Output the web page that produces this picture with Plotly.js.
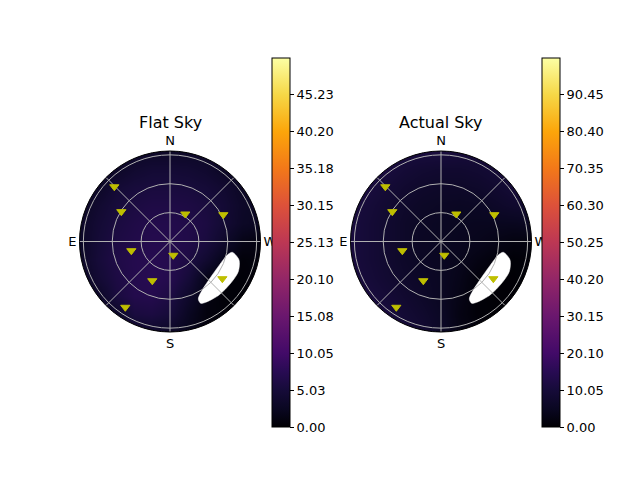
<!DOCTYPE html>
<html><head><meta charset="utf-8">
<script src="https://cdn.plot.ly/plotly-3.0.1.min.js"></script>
<style>html,body{margin:0;padding:0;background:#fff}</style>
</head><body><div id="chart" style="width:640px;height:480px"></div>
<script>
// sky grid coordinates (zenith-angle units, x: E(-) .. W(+), y: S(-) .. N(+))
const gridX = [-94, -75.2, -56.4, -37.6, -18.8, 0, 18.8, 37.6, 56.4, 75.2, 94];
const gridY = [-94, -75.2, -56.4, -37.6, -18.8, 0, 18.8, 37.6, 56.4, 75.2, 94];

// brightness rows listed from north (top) to south (bottom)
const flatSky = [
  [2.5, 2.5, 3.0, 3.0, 3.0, 3.0, 3.0, 3.0, 3.0, 2.5, 2.5],
  [2.5, 2.5, 3.0, 4.0, 4.5, 4.5, 4.3, 3.8, 2.8, 2.5, 2.5],
  [2.5, 3.0, 4.5, 5.2, 5.5, 5.5, 5.3, 4.8, 4.0, 2.8, 2.5],
  [2.5, 4.0, 5.2, 5.8, 6.2, 6.2, 6.0, 5.5, 4.5, 3.2, 2.5],
  [3.0, 4.5, 5.6, 6.3, 6.8, 6.8, 6.5, 5.8, 4.5, 3.0, 2.5],
  [3.0, 4.8, 6.0, 6.6, 7.0, 7.0, 6.5, 5.5, 3.5, 1.5, 1.0],
  [3.0, 5.0, 6.3, 7.0, 7.3, 7.0, 6.0, 4.0, 1.5, 0.5, 0.8],
  [2.5, 4.5, 6.0, 7.0, 7.5, 7.0, 5.0, 1.5, 0.3, 0.3, 0.8],
  [2.5, 3.0, 5.5, 6.8, 7.0, 6.0, 3.5, 1.0, 0.3, 0.3, 0.8],
  [2.5, 2.5, 3.0, 5.5, 5.8, 5.0, 2.5, 0.8, 0.5, 0.5, 0.8],
  [2.5, 2.5, 2.5, 3.0, 3.5, 3.0, 2.0, 1.0, 0.8, 0.8, 0.8]
];
const actualSky = [
  [11, 11, 11, 11, 11, 11, 10.5, 10, 10, 10, 10],
  [11, 11, 11, 9.5, 8.5, 8, 8, 8.5, 9.5, 10, 10],
  [11, 11, 9.5, 8, 7, 6.5, 6.5, 7, 8, 9.5, 10],
  [11, 10, 8.5, 7, 6, 5.5, 5.2, 5.5, 6.5, 7.5, 8],
  [11, 9.5, 8, 6.5, 5.5, 5, 4.8, 4.5, 4.5, 4.5, 5],
  [11, 9.5, 8, 6.5, 5.3, 5, 4.5, 4, 3, 2, 2],
  [11, 9.5, 8, 6.5, 5.5, 4.8, 4, 2.5, 1.2, 0.5, 1],
  [11, 10, 8.5, 7, 6, 5, 3.5, 1.2, 0.3, 0.3, 1],
  [11, 11, 9.5, 8, 6.5, 5, 3, 0.8, 0.3, 0.3, 1],
  [11, 11, 11, 9, 7.5, 5.5, 2.5, 0.8, 0.5, 0.5, 1],
  [11, 11, 11, 10, 8.5, 6, 3, 1.5, 1, 1, 1]
];
const flatMax = 50.26;
const actualMax = 100.5;
const flatTicks = [0, 5.03, 10.05, 15.08, 20.10, 25.13, 30.15, 35.18, 40.20, 45.23];
const actualTicks = [0, 10.05, 20.10, 30.15, 40.20, 50.25, 60.30, 70.35, 80.40, 90.45];

// masked (no data) region outline, same grid units
const maskX = [64.7, 71.7, 70.9, 63.0, 50.9, 38.7, 31.9, 29.4, 33.5, 42.2, 51.2, 59.5, 64.7];
const maskY = [-11.2, -19.2, -31.4, -43.4, -55.6, -62.5, -64.2, -59.7, -50.4, -37.2, -24.6, -14.0, -11.2];

// stars (azimuth from N through E, zenith angle)
const starTheta = [45.5, 58.5, 330.9, 296.7, 103.4, 193.4, 155.7, 145.8, 234.6];
const starR = [81.1, 59.3, 32.7, 62.0, 41.3, 14.7, 44.7, 82.6, 66.7];

const compassVals = [0, 45, 90, 135, 180, 225, 270, 315];
const compassText = ['N', '', 'E', '', 'S', '', 'W', ''];
const ringVals = [30, 60, 90];

const inferno = [
  [0.0, '#000004'], [0.05, '#0a0722'], [0.1, '#160b39'], [0.15, '#280b53'],
  [0.2, '#420a68'], [0.3, '#6a176e'], [0.4, '#932667'], [0.5, '#bc3754'],
  [0.6, '#dd513a'], [0.7, '#f37819'], [0.8, '#fca50a'], [0.9, '#f6d746'],
  [1.0, '#fcffa4']
];

const FONT = 'DejaVu Sans, Liberation Sans, sans-serif';
const W = 640, H = 480;
const RMAX = 94;          // sky circle radius in grid units
const RPX = 90.5;         // sky circle radius in pixels
const AX = 110;           // half-range of the cartesian helper axes
const HALF = AX * RPX / RMAX;
const cy = 241.5;
function dom(c) { return [(c - RPX) / W, (c + RPX) / W]; }
function domC(c) { return [(c - HALF) / W, (c + HALF) / W]; }
const yDom = [1 - (cy + RPX) / H, 1 - (cy - RPX) / H];
const yDomC = [1 - (cy + HALF) / H, 1 - (cy - HALF) / H];

// white ring hiding the square heatmap corners outside the sky circle
const ringW = 60;
const ringRad = (RPX + ringW / 2) * RMAX / RPX;
const ringX = [], ringY = [];
for (let i = 0; i <= 720; i++) {
  const t = i * Math.PI / 360;
  ringX.push(ringRad * Math.cos(t));
  ringY.push(ringRad * Math.sin(t));
}

function cb(xpx, ticks) {
  return {
    x: xpx / W, xanchor: 'left', xpad: 0,
    y: 1 - 242.5 / H, yanchor: 'middle', ypad: 0,
    len: 369 / H, lenmode: 'fraction',
    thickness: 18, thicknessmode: 'pixels',
    outlinewidth: 1, outlinecolor: '#000',
    tickmode: 'array', tickvals: ticks, tickformat: '.2f',
    ticks: 'outside', ticklen: 4, tickwidth: 1, tickcolor: '#000',
    tickfont: {size: 13, family: FONT, color: '#000'}
  };
}

function panel(z, zmax, ticks, cbx, xa, ya, polarId) {
  return [
    {type: 'heatmap', x: gridX, y: gridY, z: z.slice().reverse(), zsmooth: 'best',
     zmin: 0, zmax: zmax, colorscale: inferno, xaxis: xa, yaxis: ya,
     colorbar: cb(cbx, ticks), hoverinfo: 'skip'},
    {type: 'scatter', x: maskX, y: maskY, mode: 'lines', fill: 'toself',
     fillcolor: '#ffffff',
     line: {color: '#ffffff', width: 0.5, shape: 'spline', smoothing: 0.8},
     xaxis: xa, yaxis: ya, hoverinfo: 'skip', showlegend: false},
    {type: 'scatter', x: ringX, y: ringY, mode: 'lines',
     line: {color: '#ffffff', width: ringW, simplify: false}, xaxis: xa, yaxis: ya,
     hoverinfo: 'skip', showlegend: false},
    {type: 'scatterpolar', subplot: polarId, theta: starTheta, r: starR, mode: 'markers',
     marker: {symbol: 'triangle-down', size: 8, color: '#bfbf00',
              line: {color: '#bfbf00', width: 1}},
     hoverinfo: 'skip', showlegend: false}
  ];
}

const data = [].concat(
  panel(flatSky, flatMax, flatTicks, 272, 'x', 'y', 'polar'),
  panel(actualSky, actualMax, actualTicks, 542, 'x2', 'y2', 'polar2')
);

function polarLayout(d) {
  return {
    domain: {x: d, y: yDom},
    bgcolor: 'rgba(0,0,0,0)',
    radialaxis: {range: [0, RMAX], tickmode: 'array', tickvals: ringVals,
                 showticklabels: false, ticks: '', showline: false,
                 gridcolor: '#b0b0b0', gridwidth: 1, layer: 'below traces'},
    angularaxis: {rotation: 90, direction: 'counterclockwise',
                  tickmode: 'array', tickvals: compassVals, ticktext: compassText,
                  ticks: '', showline: true, linecolor: '#000', linewidth: 1,
                  gridcolor: '#b0b0b0', gridwidth: 1, layer: 'below traces',
                  tickfont: {size: 13, family: FONT, color: '#000'}}
  };
}

const axBase = {range: [-AX, AX], visible: false, fixedrange: true,
                showgrid: false, zeroline: false};

const layout = {
  width: W, height: H,
  margin: {l: 0, r: 0, t: 0, b: 0},
  paper_bgcolor: '#ffffff', plot_bgcolor: 'rgba(0,0,0,0)',
  showlegend: false,
  font: {family: FONT, size: 13, color: '#000'},
  xaxis: Object.assign({}, axBase, {domain: domC(170), anchor: 'y'}),
  yaxis: Object.assign({}, axBase, {domain: yDomC, anchor: 'x'}),
  xaxis2: Object.assign({}, axBase, {domain: domC(441), anchor: 'y2'}),
  yaxis2: Object.assign({}, axBase, {domain: yDomC, anchor: 'x2'}),
  polar: polarLayout(dom(170)),
  polar2: polarLayout(dom(441)),
  annotations: [
    {text: 'Flat Sky', x: 170 / W, y: 1 - 123 / H, xref: 'paper', yref: 'paper',
     xanchor: 'center', yanchor: 'middle', showarrow: false,
     font: {size: 16, family: FONT, color: '#000'}},
    {text: 'Actual Sky', x: 441 / W, y: 1 - 123 / H, xref: 'paper', yref: 'paper',
     xanchor: 'center', yanchor: 'middle', showarrow: false,
     font: {size: 16, family: FONT, color: '#000'}}
  ]
};

Plotly.newPlot('chart', data, layout, {staticPlot: true, displayModeBar: false});
</script>
</body></html>
